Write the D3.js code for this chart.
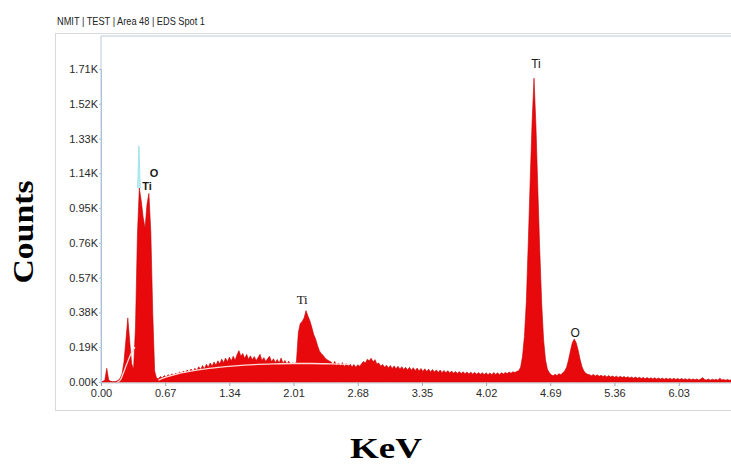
<!DOCTYPE html>
<html>
<head>
<meta charset="utf-8">
<script src="https://cdn.jsdelivr.net/npm/d3@7/dist/d3.min.js"></script>
<style>
  html, body { margin: 0; padding: 0; background: #fff; }
  svg { display: block; }
</style>
</head>
<body>
<svg id="chart" width="731" height="464"></svg>
<script>
// EDS spectrum: counts (in thousands) per 0.02 keV channel, starting at 0 keV
const channelStartKeV = 0;
const channelStepKeV = 0.02;
const countsK = [
  // 0.00 - 0.18
  0.000, 0.004, 0.010, 0.075, 0.012, 0.004, 0.002, 0.002, 0.004, 0.010,
  // 0.20 - 0.38
  0.020, 0.045, 0.110, 0.230, 0.350, 0.220, 0.100, 0.070, 0.300, 0.800,
  // 0.40 - 0.58
  1.060, 0.990, 0.900, 0.840, 0.970, 1.030, 0.820, 0.380, 0.060, 0.020,
  // 0.60 - 0.78
  0.018, 0.030, 0.022, 0.035, 0.026, 0.040, 0.031, 0.045, 0.034, 0.048,
  // 0.80 - 0.98
  0.040, 0.055, 0.046, 0.060, 0.049, 0.066, 0.053, 0.071, 0.058, 0.075,
  // 1.00 - 1.18
  0.063, 0.083, 0.068, 0.090, 0.073, 0.097, 0.080, 0.104, 0.087, 0.109,
  // 1.20 - 1.38
  0.092, 0.116, 0.098, 0.125, 0.105, 0.131, 0.110, 0.136, 0.115, 0.141,
  // 1.40 - 1.58
  0.119, 0.149, 0.171, 0.140, 0.156, 0.128, 0.151, 0.124, 0.143, 0.121,
  // 1.60 - 1.78
  0.139, 0.117, 0.134, 0.151, 0.118, 0.133, 0.112, 0.128, 0.141, 0.110,
  // 1.80 - 1.98
  0.127, 0.106, 0.123, 0.104, 0.131, 0.102, 0.118, 0.098, 0.114, 0.096,
  // 2.00 - 2.18
  0.105, 0.095, 0.110, 0.270, 0.320, 0.330, 0.350, 0.390, 0.360, 0.335,
  // 2.20 - 2.38
  0.300, 0.260, 0.235, 0.200, 0.170, 0.155, 0.145, 0.130, 0.122, 0.115,
  // 2.40 - 2.58
  0.110, 0.094, 0.112, 0.090, 0.104, 0.088, 0.106, 0.084, 0.100, 0.086,
  // 2.60 - 2.78
  0.098, 0.082, 0.096, 0.080, 0.094, 0.086, 0.100, 0.112, 0.104, 0.124,
  // 2.80 - 2.98
  0.116, 0.130, 0.110, 0.122, 0.098, 0.104, 0.086, 0.096, 0.080, 0.092,
  // 3.00 - 3.18
  0.076, 0.090, 0.074, 0.088, 0.072, 0.086, 0.070, 0.084, 0.068, 0.080,
  // 3.20 - 3.38
  0.066, 0.080, 0.064, 0.078, 0.062, 0.076, 0.060, 0.074, 0.058, 0.072,
  // 3.40 - 3.58
  0.057, 0.070, 0.055, 0.068, 0.054, 0.066, 0.052, 0.065, 0.051, 0.063,
  // 3.60 - 3.78
  0.050, 0.062, 0.049, 0.060, 0.048, 0.058, 0.047, 0.057, 0.046, 0.056,
  // 3.80 - 3.98
  0.045, 0.055, 0.044, 0.054, 0.043, 0.053, 0.042, 0.052, 0.042, 0.051,
  // 4.00 - 4.18
  0.041, 0.050, 0.040, 0.049, 0.040, 0.052, 0.041, 0.050, 0.040, 0.051,
  // 4.20 - 4.38
  0.044, 0.052, 0.046, 0.054, 0.048, 0.056, 0.052, 0.058, 0.062, 0.080,
  // 4.40 - 4.58
  0.140, 0.250, 0.440, 0.760, 1.100, 1.420, 1.660, 1.400, 1.050, 0.720,
  // 4.60 - 4.78
  0.430, 0.230, 0.120, 0.070, 0.050, 0.040, 0.034, 0.042, 0.036, 0.045,
  // 4.80 - 4.98
  0.040, 0.050, 0.060, 0.080, 0.120, 0.170, 0.215, 0.235, 0.215, 0.175,
  // 5.00 - 5.18
  0.125, 0.085, 0.060, 0.048, 0.042, 0.040, 0.034, 0.041, 0.033, 0.039,
  // 5.20 - 5.38
  0.031, 0.037, 0.030, 0.036, 0.028, 0.035, 0.027, 0.033, 0.026, 0.032,
  // 5.40 - 5.58
  0.025, 0.031, 0.024, 0.030, 0.023, 0.029, 0.022, 0.028, 0.021, 0.027,
  // 5.60 - 5.78
  0.020, 0.026, 0.019, 0.025, 0.018, 0.024, 0.018, 0.023, 0.017, 0.023,
  // 5.80 - 5.98
  0.016, 0.022, 0.016, 0.021, 0.015, 0.021, 0.015, 0.020, 0.014, 0.020,
  // 6.00 - 6.18
  0.014, 0.019, 0.013, 0.019, 0.013, 0.018, 0.012, 0.018, 0.012, 0.017,
  // 6.20 - 6.38
  0.012, 0.017, 0.011, 0.016, 0.024, 0.014, 0.011, 0.016, 0.010, 0.015,
  // 6.40 - 6.60
  0.011, 0.015, 0.010, 0.021, 0.011, 0.014, 0.010, 0.014, 0.009, 0.013,
  0.011
];

// Fitted background, two visible segments (keV, counts in K)
const bgLowKeV = [0.17, 0.20, 0.23, 0.27, 0.31, 0.355];
const bgLowK   = [0.000, 0.010, 0.045, 0.100, 0.150, 0.190];
const bgHighKeV = [0.60, 0.67, 0.80, 1.00, 1.20, 1.40, 1.60, 1.80, 2.00, 2.20, 2.40, 2.60];
const bgHighK   = [0.010, 0.025, 0.045, 0.065, 0.078, 0.088, 0.095, 0.099, 0.101, 0.101, 0.099, 0.096];

// Peak marker spike above the first low-energy peak
const markerKeV = [0.382, 0.396, 0.410];
const markerK   = [1.060, 1.290, 1.060];

// Element labels and their anchors (keV, counts in K)
const peakLabels  = ["Ti", "O", "Ti", "Ti", "O"];
const peakLabelKeV = [0.48, 0.553, 2.10, 4.54, 4.95];
const peakLabelK   = [1.07, 1.14, 0.45, 1.74, 0.27];

// Axis ticks
const xTicks = [0.00, 0.67, 1.34, 2.01, 2.68, 3.35, 4.02, 4.69, 5.36, 6.03];
const yTicks = [0.00, 0.19, 0.38, 0.57, 0.76, 0.95, 1.14, 1.33, 1.52, 1.71];

const title = "NMIT | TEST | Area 48 | EDS Spot 1";
const xLabel = "KeV";
const yLabel = "Counts";

// ---- layout ----
const plot = { left: 101, top: 36, right: 733, bottom: 382 };
const svg = d3.select("#chart");

const x = d3.scaleLinear().domain([0, 6.6]).range([plot.left, plot.left + 6.6 * 95.8]);
const y = d3.scaleLinear().domain([0, 1.71]).range([plot.bottom, 69]);

const spectrum = countsK.map((c, i) => ({ e: channelStartKeV + i * channelStepKeV, c }));

// outer panel frame
svg.append("rect")
  .attr("x", 55.5).attr("y", 33.5)
  .attr("width", 740).attr("height", 377)
  .attr("fill", "#fff")
  .attr("stroke", "#d6dadd").attr("stroke-width", 1);

// plot box
svg.append("rect")
  .attr("x", plot.left).attr("y", plot.top)
  .attr("width", 700).attr("height", plot.bottom - plot.top + 1)
  .attr("fill", "#fff")
  .attr("stroke", "#b9ccd8").attr("stroke-width", 1);

svg.append("defs").append("clipPath").attr("id", "plotClip")
  .append("rect")
  .attr("x", plot.left + 0.5).attr("y", plot.top)
  .attr("width", 700).attr("height", plot.bottom - plot.top + 1);

const g = svg.append("g").attr("clip-path", "url(#plotClip)");

// filled spectrum
const area = d3.area()
  .x(d => x(d.e))
  .y0(y(0))
  .y1(d => y(d.c));

g.append("path")
  .datum(spectrum)
  .attr("d", area)
  .attr("fill", "#e8090d")
  .attr("stroke", "#c40000")
  .attr("stroke-width", 0.6)
  .attr("stroke-linejoin", "round");

// marker spike
const markerData = markerKeV.map((e, i) => ({ e, c: markerK[i] }));
g.append("path")
  .datum(markerData)
  .attr("d", d3.line().x(d => x(d.e)).y(d => y(d.c)))
  .attr("fill", "#bff0f0")
  .attr("stroke", "#8fe0e6")
  .attr("stroke-width", 0.8);

// fitted background
const bgLine = d3.line().x(d => x(d.e)).y(d => y(d.c)).curve(d3.curveMonotoneX);
[[bgLowKeV, bgLowK], [bgHighKeV, bgHighK]].forEach(([es, cs]) => {
  g.append("path")
    .datum(es.map((e, i) => ({ e, c: cs[i] })))
    .attr("d", bgLine)
    .attr("fill", "none")
    .attr("stroke", "#ffd9d4")
    .attr("stroke-width", 1.3);
});

// axes
const tickFont = "'Liberation Sans Narrow', 'Arial Narrow', 'Liberation Sans', sans-serif";

const yAxis = svg.append("g")
  .attr("transform", `translate(${plot.left},0)`)
  .call(d3.axisLeft(y).tickValues(yTicks).tickSize(2).tickPadding(1)
    .tickFormat(d => d.toFixed(2) + "K"));
yAxis.select(".domain").attr("stroke", "#a9c3da");
yAxis.selectAll(".tick line").attr("stroke", "#a9c3da");
yAxis.selectAll("text")
  .attr("font-family", tickFont).attr("font-size", 11).attr("fill", "#2b2b2b");

const xAxis = svg.append("g")
  .attr("transform", `translate(0,${plot.bottom + 1})`)
  .call(d3.axisBottom(x).tickValues(xTicks).tickSize(3).tickPadding(3)
    .tickFormat(d => d.toFixed(2)));
xAxis.select(".domain").remove();
xAxis.selectAll(".tick line").attr("stroke", "#9aa8b4");
xAxis.selectAll("text")
  .attr("font-family", tickFont).attr("font-size", 11).attr("fill", "#2b2b2b");

// element labels
peakLabels.forEach((t, i) => {
  const serif = (i === 2);
  svg.append("text")
    .attr("x", x(peakLabelKeV[i]))
    .attr("y", y(peakLabelK[i]))
    .attr("text-anchor", "middle")
    .attr("dominant-baseline", "central")
    .attr("font-family", serif ? "'Liberation Serif', serif" : tickFont)
    .attr("font-size", serif ? 13 : (i < 2 ? 11 : 12))
    .attr("font-weight", i < 2 ? "bold" : "normal")
    .attr("fill", "#1a1a1a")
    .text(t);
});

// title
svg.append("text")
  .attr("x", 57).attr("y", 25)
  .attr("font-family", tickFont).attr("font-size", 11.5)
  .attr("fill", "#222")
  .attr("textLength", 148).attr("lengthAdjust", "spacingAndGlyphs")
  .text(title);

// axis titles
svg.append("text")
  .attr("x", 386).attr("y", 458)
  .attr("text-anchor", "middle")
  .attr("font-family", "'Liberation Serif', 'Times New Roman', serif")
  .attr("font-weight", "bold").attr("font-size", 30)
  .attr("textLength", 72).attr("lengthAdjust", "spacingAndGlyphs")
  .attr("fill", "#000")
  .text(xLabel);

svg.append("text")
  .attr("transform", "translate(33,232) rotate(-90)")
  .attr("text-anchor", "middle")
  .attr("font-family", "'Liberation Serif', 'Times New Roman', serif")
  .attr("font-weight", "bold").attr("font-size", 30)
  .attr("textLength", 103).attr("lengthAdjust", "spacingAndGlyphs")
  .attr("fill", "#000")
  .text(yLabel);
</script>
</body>
</html>
